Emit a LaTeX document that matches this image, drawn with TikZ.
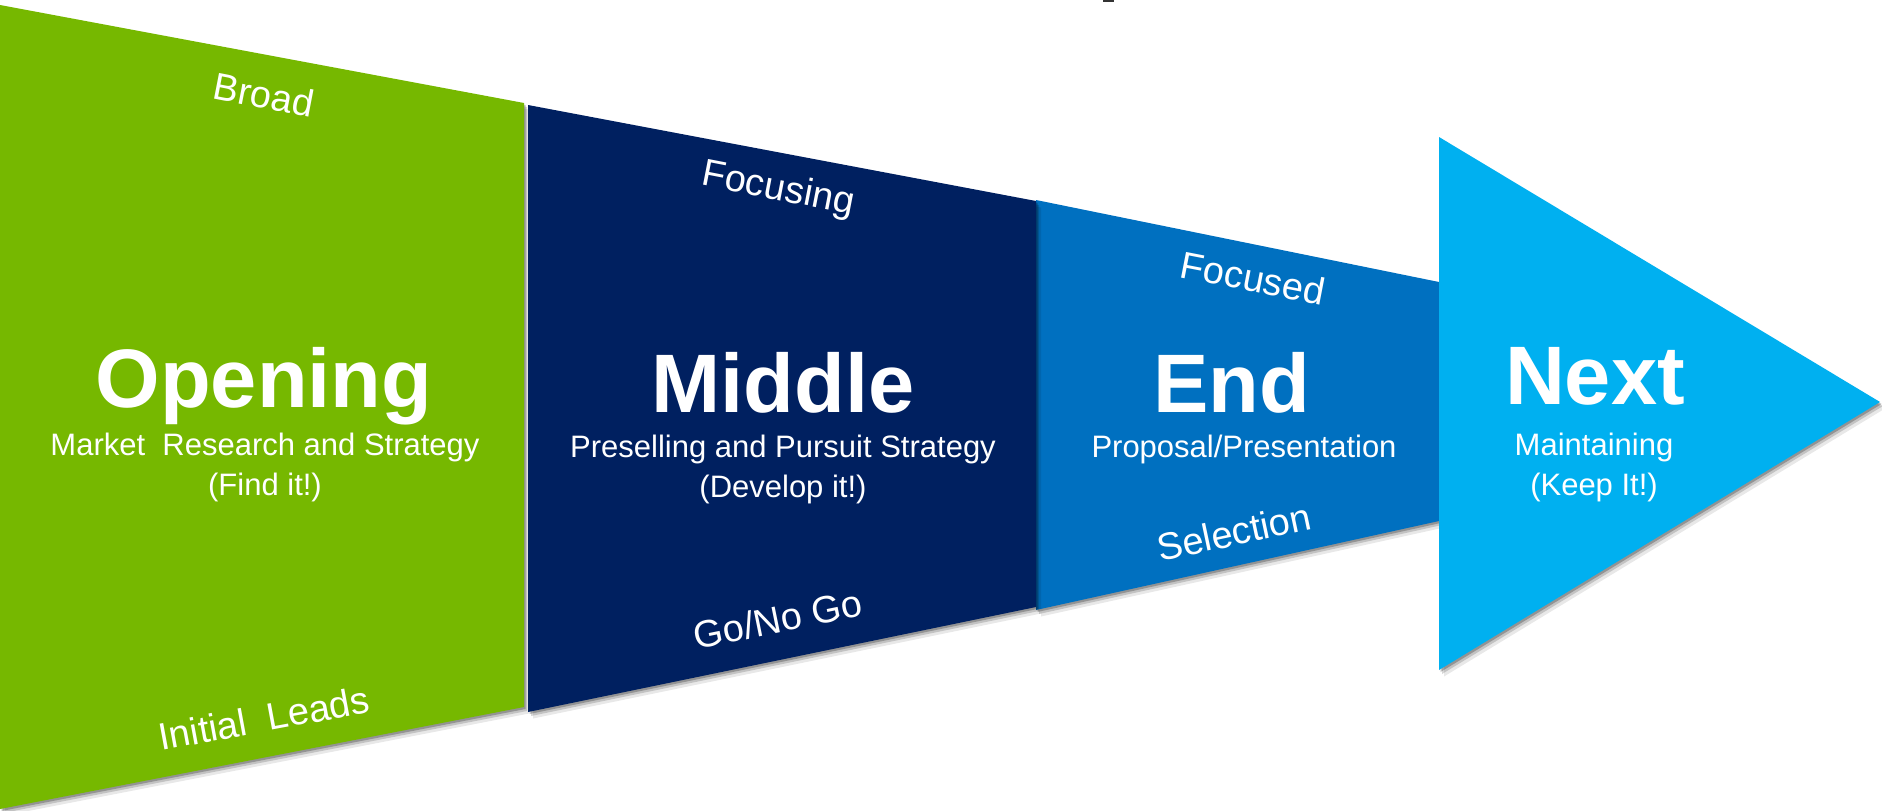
\documentclass[tikz,border=0pt]{standalone}
\usepackage{fontspec}
\setmainfont{Liberation Sans}

\definecolor{opengreen}{RGB}{118,184,0}
\definecolor{middlenavy}{RGB}{0,32,96}
\definecolor{endblue}{RGB}{0,112,192}
\definecolor{nextcyan}{RGB}{0,176,240}

% The four stage shapes, drawn in pixel units (y grows downwards)
\newcommand\greenblock[1]{\fill[#1] (0,5) -- (524,103) -- (524,707) -- (0,809) -- cycle;}
\newcommand\navyblock[1]{\fill[#1] (528,105) -- (1036,201) -- (1036,607) -- (528,712) -- cycle;}
\newcommand\blueblock[1]{\fill[#1] (1036,200) -- (1439,282) -- (1439,521) -- (1036,610) -- cycle;}
\newcommand\cyanblock[1]{\fill[#1] (1439,137) -- (1880,402) -- (1439,670) -- cycle;}

% Soft drop shadow made of a few offset translucent copies, then the shape itself
\newcommand\shadedblock[2]{%
  \begin{scope}[shift={(1.5,2)}]#1{black,opacity=.24}\end{scope}
  \begin{scope}[shift={(3,4)}]#1{black,opacity=.16}\end{scope}
  \begin{scope}[shift={(5,6.5)}]#1{black,opacity=.09}\end{scope}
  #1{#2}}

\tikzset{
  stagetitle/.style={text=white, font=\fontsize{83}{83}\selectfont\bfseries, anchor=base, inner sep=0pt},
  stagesub/.style={text=white, font=\fontsize{31}{31}\selectfont, anchor=base, inner sep=0pt},
  edgetag/.style={text=white, font=\fontsize{38}{38}\selectfont, inner sep=0pt},
}

\begin{document}
\begin{tikzpicture}[x=1pt, y=-1pt]
  \fill[white] (0,0) rectangle (1882,811);
  \useasboundingbox (0,0) rectangle (1882,811);

  % stage shapes
  \shadedblock{\blueblock}{endblue}
  \shadedblock{\cyanblock}{nextcyan}
  \shadedblock{\greenblock}{opengreen}
  \shadedblock{\navyblock}{middlenavy}

  % small dark mark at the top edge
  \fill[black!80] (1103,0) rectangle (1114,1.7);

  % Opening
  \node[edgetag, rotate=-11] (broad) at (264,95) {Broad};
  \node[stagetitle] (opening) at (264,407) {Opening};
  \node[stagesub] (openingsub) at (265,455) {Market\ \ Research and Strategy};
  \node[stagesub] (openingnote) at (265,495) {(Find it!)};
  \node[edgetag, rotate=10.5] (leads) at (264,718) {Initial\ \ Leads};

  % Middle
  \node[edgetag, rotate=-11] (focusing) at (778,190) {Focusing};
  \node[stagetitle] (middle) at (783,412) {Middle};
  \node[stagesub] (middlesub) at (783,457) {Preselling and Pursuit Strategy};
  \node[stagesub] (middlenote) at (783,497) {(Develop it!)};
  \node[edgetag, rotate=11.5] (gonogo) at (778,619) {Go/No Go};

  % End
  \node[edgetag, rotate=-11] (focused) at (1253,278) {Focused};
  \node[stagetitle] (end) at (1232,412) {End};
  \node[stagesub] (endsub) at (1244,457) {Proposal/Presentation};
  \node[edgetag, rotate=12] (selection) at (1234,532) {Selection};

  % Next
  \node[stagetitle] (next) at (1595,404) {Next};
  \node[stagesub] (nextsub) at (1594,455) {Maintaining};
  \node[stagesub] (nextnote) at (1594,495) {(Keep It!)};
\end{tikzpicture}
\end{document}
